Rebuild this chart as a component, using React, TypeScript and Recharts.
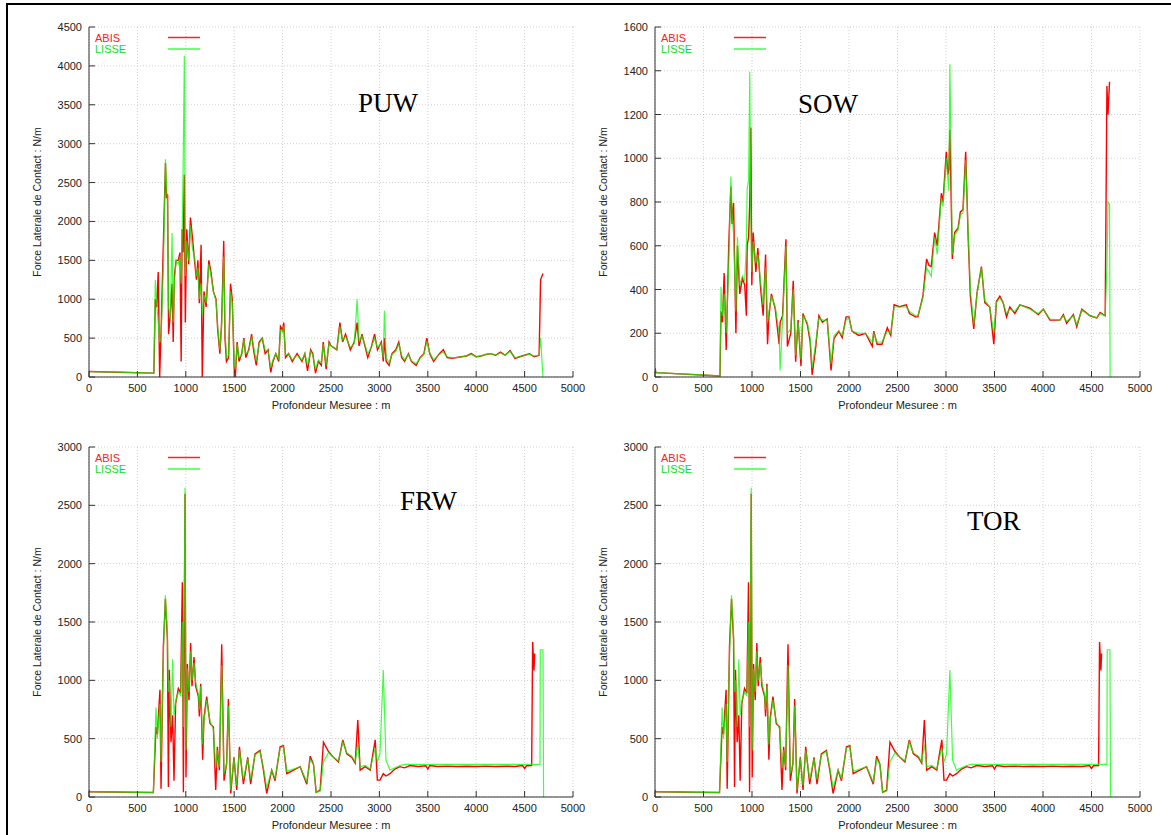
import React from "react";
import { LineChart, Line, XAxis, YAxis, CartesianGrid } from "recharts";

const depthTicks = [0, 500, 1000, 1500, 2000, 2500, 3000, 3500, 4000, 4500, 5000];
const puwTicks = [0, 500, 1000, 1500, 2000, 2500, 3000, 3500, 4000, 4500];
const sowTicks = [0, 200, 400, 600, 800, 1000, 1200, 1400, 1600];
const frwTicks = [0, 500, 1000, 1500, 2000, 2500, 3000];

// PUW
const puwDepth = [
  0, 300, 670, 685, 700, 715, 730, 745, 770, 790,
  800, 812, 822, 840, 858, 870, 882, 900, 922, 940,
  952, 962, 972, 985, 995, 1010, 1030, 1048, 1068, 1090,
  1110, 1125, 1140, 1158, 1170, 1188, 1210, 1238, 1260, 1285,
  1312, 1330, 1352, 1370, 1392, 1405, 1420, 1442, 1462, 1480,
  1500, 1512, 1530, 1550, 1578, 1600, 1620, 1650, 1680, 1700,
  1728, 1758, 1790, 1820, 1850, 1878, 1900, 1930, 1960, 1978,
  2000, 2012, 2030, 2062, 2100, 2150, 2200, 2230, 2258, 2290,
  2312, 2340, 2370, 2400, 2420, 2450, 2480, 2500, 2560, 2592,
  2620, 2650, 2700, 2740, 2770, 2790, 2820, 2850, 2880, 2920,
  2950, 2980, 3020, 3040, 3052, 3070, 3100, 3130, 3170, 3200,
  3230, 3260, 3300, 3330, 3380, 3420, 3460, 3490, 3520, 3560,
  3620, 3660, 3700, 3750, 3800, 3850, 3900, 3950, 4000, 4050,
  4100, 4150, 4200, 4250, 4300, 4350, 4400, 4450, 4500, 4550,
  4600, 4650, 4665, 4690,
];
const puwAbis = [
  70, 62, 50, 1000, 900, 1350, 0, 600, 1800, 2750,
  2300, 2350, 550, 800, 1200, 450, 1300, 1500, 1500, 1600,
  200, 1900, 1600, 2600, 700, 1900, 1450, 2050, 1800, 1500,
  1250, 1500, 950, 1700, 0, 1100, 900, 1500, 1350, 1100,
  1000, 600, 300, 700, 1750, 500, 200, 250, 1200, 1000,
  100, 0, 450, 200, 300, 500, 250, 350, 550, 350,
  150, 450, 500, 300, 350, 60, 200, 300, 200, 650,
  600, 700, 250, 300, 200, 300, 200, 300, 80, 350,
  300, 50, 200, 150, 450, 100, 450, 400, 350, 700,
  450, 550, 350, 450, 700, 400, 550, 400, 250, 400,
  550, 350, 450, 200, 500, 200, 150, 300, 350, 450,
  250, 200, 300, 200, 150, 250, 300, 500, 300, 200,
  300, 350, 250, 240, 250, 260, 270, 300, 260, 270,
  290, 300, 280, 320, 280, 340, 240, 260, 280, 300,
  260, 280, 1250, 1330,
];
const puwLisse = [
  70, 62, 50, 1250, 950, 700, 450, 500, 1500, 2800,
  2500, 2200, 900, 750, 1850, 700, 1200, 1500, 1450, 1550,
  1200, 1800, 2650, 4130, 1300, 1750, 1500, 1950, 1650, 1550,
  1300, 1400, 1000, 1200, 800, 1050, 950, 1450, 1300, 1100,
  980, 650, 350, 650, 1550, 600, 250, 280, 1100, 950,
  200, 100, 420, 250, 280, 480, 300, 330, 520, 400,
  200, 420, 500, 350, 330, 120, 220, 300, 230, 600,
  580, 650, 280, 300, 220, 280, 220, 300, 150, 330,
  280, 100, 220, 180, 420, 150, 430, 400, 360, 650,
  480, 520, 380, 430, 1000, 450, 530, 420, 300, 390,
  500, 380, 430, 250, 850, 250, 180, 290, 330, 420,
  280, 220, 290, 210, 170, 240, 290, 460, 310, 220,
  290, 320, 260, 250, 250, 260, 270, 290, 260, 270,
  290, 300, 280, 310, 280, 330, 250, 260, 280, 290,
  270, 280, 500, 0,
];

// SOW
const sowDepth = [
  0, 10, 670, 680, 695, 713, 734, 760, 782, 795,
  810, 834, 850, 874, 901, 925, 942, 950, 965, 977,
  988, 998, 1012, 1040, 1060, 1090, 1115, 1140, 1160, 1175,
  1200, 1240, 1280, 1290, 1315, 1350, 1365, 1400, 1425, 1450,
  1475, 1505, 1525, 1570, 1600, 1620, 1655, 1690, 1725, 1775,
  1815, 1845, 1895, 1930, 1970, 2000, 2030, 2100, 2170, 2240,
  2255, 2290, 2340, 2395, 2430, 2465, 2521, 2590, 2624, 2685,
  2710, 2762, 2800, 2825, 2848, 2883, 2910, 2952, 2969, 3003,
  3020, 3030, 3040, 3065, 3089, 3124, 3148, 3175, 3203, 3227,
  3251, 3286, 3320, 3365, 3400, 3451, 3493, 3520, 3555, 3589,
  3624, 3658, 3710, 3761, 3865, 3951, 4003, 4072, 4175, 4210,
  4244, 4313, 4348, 4400, 4486, 4555, 4590, 4641, 4659, 4670,
  4686, 4692,
];
const sowAbis = [
  40, 20, 5, 300, 250, 475, 123, 600, 870, 700,
  795, 200, 600, 380, 450, 420, 280, 600, 640, 800,
  1140, 420, 660, 480, 590, 400, 280, 560, 150, 280,
  380, 310, 150, 250, 280, 630, 140, 200, 440, 70,
  260, 50, 290, 240, 160, 10, 130, 280, 250, 265,
  30, 175, 210, 180, 275, 275, 210, 190, 200, 140,
  210, 150, 150, 225, 190, 330, 321, 330, 290, 275,
  275, 370, 540, 510, 505, 660, 600, 840, 800, 1030,
  925, 950, 1130, 540, 660, 680, 755, 765, 1030, 660,
  370, 220, 385, 505, 340, 320, 150, 345, 370, 340,
  275, 320, 290, 330, 315, 285, 310, 260, 260, 285,
  245, 285, 230, 310, 280, 270, 295, 280, 1330, 1200,
  1350, null,
];
const sowLisse = [
  30, 20, 5, 413, 280, 380, 200, 500, 916, 750,
  650, 300, 640, 420, 460, 440, 600, 860, 900, 1395,
  700, 480, 620, 520, 560, 430, 330, 500, 250, 300,
  370, 320, 200, 30, 260, 600, 200, 220, 400, 100,
  250, 80, 280, 250, 180, 40, 150, 270, 260, 260,
  60, 190, 210, 190, 260, 270, 210, 200, 200, 160,
  200, 160, 160, 210, 200, 320, 320, 320, 300, 280,
  280, 360, 500, 480, 460, 640, 560, 820, 780, 1000,
  900, 850, 1430, 560, 650, 670, 740, 750, 990, 680,
  400, 240, 380, 500, 350, 320, 200, 340, 360, 340,
  290, 310, 300, 330, 310, 290, 310, 265, 260, 280,
  255, 280, 240, 305, 280, 270, 290, 280, 500, 800,
  790, 0,
];

// FRW (the TOR panel shows the same traces)
const frwDepth = [
  0, 10, 665, 692, 706, 733, 744, 768, 789, 810,
  820, 830, 847, 864, 878, 895, 923, 947, 964, 975,
  992, 1002, 1016, 1033, 1050, 1064, 1085, 1102, 1130, 1140,
  1154, 1174, 1188, 1216, 1250, 1285, 1309, 1326, 1347, 1371,
  1395, 1422, 1440, 1464, 1498, 1526, 1554, 1595, 1640, 1670,
  1715, 1767, 1802, 1836, 1888, 1922, 1974, 2009, 2043, 2112,
  2181, 2250, 2285, 2319, 2347, 2388, 2422, 2474, 2525, 2577,
  2622, 2663, 2715, 2750, 2777, 2801, 2853, 2905, 2957, 2979,
  3006, 3040, 3068, 3109, 3160, 3212, 3260, 3316, 3400, 3480,
  3500, 3520, 3600, 3700, 3800, 3900, 4000, 4100, 4200, 4300,
  4400, 4480, 4500, 4520, 4573, 4583, 4597, 4604, 4659, 4662,
  4690, 4696,
];
const frwAbis = [
  60, 45, 38, 600, 540, 920, 70, 1290, 1700, 1350,
  85, 1090, 470, 700, 140, 800, 930, 890, 1840, 40,
  2600, 170, 1140, 830, 1320, 950, 1200, 950, 860, 690,
  970, 320, 680, 860, 630, 600, 60, 430, 230, 1310,
  140, 290, 840, 30, 340, 60, 430, 110, 340, 110,
  370, 400, 230, 30, 230, 140, 430, 440, 200, 230,
  260, 110, 350, 280, 40, 60, 470, 390, 340, 300,
  490, 370, 340, 290, 660, 230, 260, 230, 490, 145,
  145, 200, 180, 200, 240, 260, 250, 270, 262, 268,
  240, 270, 262, 265, 262, 264, 262, 265, 262, 264,
  262, 270, 245, 268, 270, 1328, 1085, 1230, null, null,
  null, null,
];
const frwLisse = [
  50, 45, 38, 770, 500, 800, 300, 1200, 1730, 1400,
  900, 1000, 600, 1180, 700, 820, 900, 870, 1500, 600,
  2650, 400, 1100, 900, 1250, 1000, 1150, 980, 880, 750,
  950, 450, 650, 830, 650, 580, 250, 400, 260, 1130,
  200, 280, 780, 60, 330, 100, 400, 150, 330, 150,
  360, 390, 250, 80, 230, 160, 420, 430, 220, 240,
  260, 130, 320, 280, 40, 50, 300, 380, 340, 310,
  470, 380, 350, 300, 450, 260, 270, 240, 420, 300,
  370, 1088, 317, 230, 250, 270, 280, 280, 280, 280,
  280, 280, 280, 280, 280, 280, 280, 280, 280, 280,
  280, 280, 280, 280, 280, 280, 280, 280, 280, 1262,
  1262, 0,
];

const toRows = (depth: number[], abis: (number | null)[], lisse: (number | null)[]) =>
  depth.map((d, i) => ({ d, abis: abis[i], lisse: lisse[i] }));

const INK = "#333";
const TXT = "#222";

const BottomTick = (p: any) => (
  <g>
    <line x1={p.x} y1={p.y} x2={p.x} y2={p.y - 6} stroke={INK} />
    <text x={p.x} y={p.y + 15} textAnchor="middle" fontSize={11} fill={TXT}>
      {p.payload.value}
    </text>
  </g>
);
const TopTick = (p: any) => <line x1={p.x} y1={p.y} x2={p.x} y2={p.y + 6} stroke={INK} />;
const LeftTick = (p: any) => (
  <g>
    <line x1={p.x} y1={p.y} x2={p.x + 6} y2={p.y} stroke={INK} />
    <text x={p.x - 7} y={p.y + 4} textAnchor="end" fontSize={11} fill={TXT}>
      {p.payload.value}
    </text>
  </g>
);
const RightTick = (p: any) => <line x1={p.x} y1={p.y} x2={p.x - 6} y2={p.y} stroke={INK} />;

type PanelProps = {
  left: number;
  top: number;
  width: number;
  rows: { d: number; abis: number | null; lisse: number | null }[];
  yMax: number;
  yTicks: number[];
  title: string;
  titleX: number;
  titleY: number;
};

function Panel({ left, top, width, rows, yMax, yTicks, title, titleX, titleY }: PanelProps) {
  const plotL = 89;
  const plotT = 27;
  const plotW = width - 89 - 12;
  const plotB = 377;
  return (
    <div style={{ position: "absolute", left, top, width, height: 420 }}>
      <LineChart width={width} height={420} data={rows} margin={{ top: 27, right: 12, bottom: 13, left: 29 }}>
        <CartesianGrid stroke="#c4c4c4" strokeWidth={0.8} strokeDasharray="1 2" />
        <XAxis
          dataKey="d"
          type="number"
          domain={[0, 5000]}
          ticks={depthTicks}
          interval={0}
          height={30}
          tickSize={0}
          tickMargin={0}
          tickLine={false}
          axisLine={{ stroke: INK }}
          tick={<BottomTick />}
          allowDataOverflow
        />
        <XAxis
          xAxisId="top"
          orientation="top"
          dataKey="d"
          type="number"
          domain={[0, 5000]}
          ticks={depthTicks}
          interval={0}
          height={0}
          tickSize={0}
          tickMargin={0}
          tickLine={false}
          axisLine={{ stroke: INK }}
          tick={<TopTick />}
        />
        <YAxis
          type="number"
          domain={[0, yMax]}
          ticks={yTicks}
          interval={0}
          width={60}
          tickSize={0}
          tickMargin={0}
          tickLine={false}
          axisLine={{ stroke: INK }}
          tick={<LeftTick />}
          allowDataOverflow
        />
        <YAxis
          yAxisId="right"
          orientation="right"
          type="number"
          domain={[0, yMax]}
          ticks={yTicks}
          interval={0}
          width={0}
          tickSize={0}
          tickMargin={0}
          tickLine={false}
          axisLine={{ stroke: INK }}
          tick={<RightTick />}
        />
        <Line
          dataKey="abis"
          type="linear"
          stroke="#ff0000"
          strokeWidth={1.4}
          dot={false}
          isAnimationActive={false}
        />
        <Line
          dataKey="lisse"
          type="linear"
          stroke="#00ff00"
          strokeOpacity={0.75}
          strokeWidth={1.2}
          dot={false}
          isAnimationActive={false}
        />
      </LineChart>
      <svg
        width={width}
        height={420}
        style={{ position: "absolute", left: 0, top: 0, pointerEvents: "none" }}
      >
        <text x={plotL + 6} y={plotT + 15} fontSize={11} fill="#ff2020">ABIS</text>
        <text x={plotL + 6} y={plotT + 26} fontSize={11} fill="#10e010">LISSE</text>
        <path d={`M${plotL + 79},${plotT + 10.5}H${plotL + 111}`} style={{ stroke: "#ff2020", strokeWidth: 1.5, fill: "none" }} />
        <path d={`M${plotL + 79},${plotT + 22}H${plotL + 111}`} style={{ stroke: "#40ff40", strokeWidth: 1.5, fill: "none" }} />
        <text
          x={41}
          y={plotT + 175}
          transform={`rotate(-90 41 ${plotT + 175})`}
          textAnchor="middle"
          fontSize={10.5}
          fill={TXT}
        >
          Force Laterale de Contact : N/m
        </text>
        <text x={plotL + plotW / 2} y={plotB + 32} textAnchor="middle" fontSize={11} fill={TXT}>
          Profondeur Mesuree : m
        </text>
        <text
          x={titleX}
          y={titleY}
          fontSize={27}
          fill="#000"
          style={{ fontFamily: "'Liberation Serif', 'DejaVu Serif', serif" }}
        >
          {title}
        </text>
      </svg>
    </div>
  );
}

export default function App() {
  const puwRows = toRows(puwDepth, puwAbis, puwLisse);
  const sowRows = toRows(sowDepth, sowAbis, sowLisse);
  const frwRows = toRows(frwDepth, frwAbis, frwLisse);
  return (
    <div
      style={{
        position: "absolute",
        left: 0,
        top: 0,
        width: 1171,
        height: 835,
        overflow: "hidden",
        background: "#fff",
        fontFamily: "'Liberation Sans', Arial, sans-serif",
      }}
    >
      <Panel left={0} top={0} width={585} rows={puwRows} yMax={4500} yTicks={puwTicks} title="PUW" titleX={358} titleY={112} />
      <Panel left={566} top={0} width={586} rows={sowRows} yMax={1600} yTicks={sowTicks} title="SOW" titleX={232} titleY={113} />
      <Panel left={0} top={420} width={585} rows={frwRows} yMax={3000} yTicks={frwTicks} title="FRW" titleX={400} titleY={90} />
      <Panel left={566} top={420} width={586} rows={frwRows} yMax={3000} yTicks={frwTicks} title="TOR" titleX={401} titleY={110} />
      <svg width={1171} height={835} style={{ position: "absolute", left: 0, top: 0, pointerEvents: "none" }}>
        <rect x={7} y={4} width={3000} height={3000} fill="none" stroke="#000" strokeWidth={2} />
      </svg>
    </div>
  );
}
